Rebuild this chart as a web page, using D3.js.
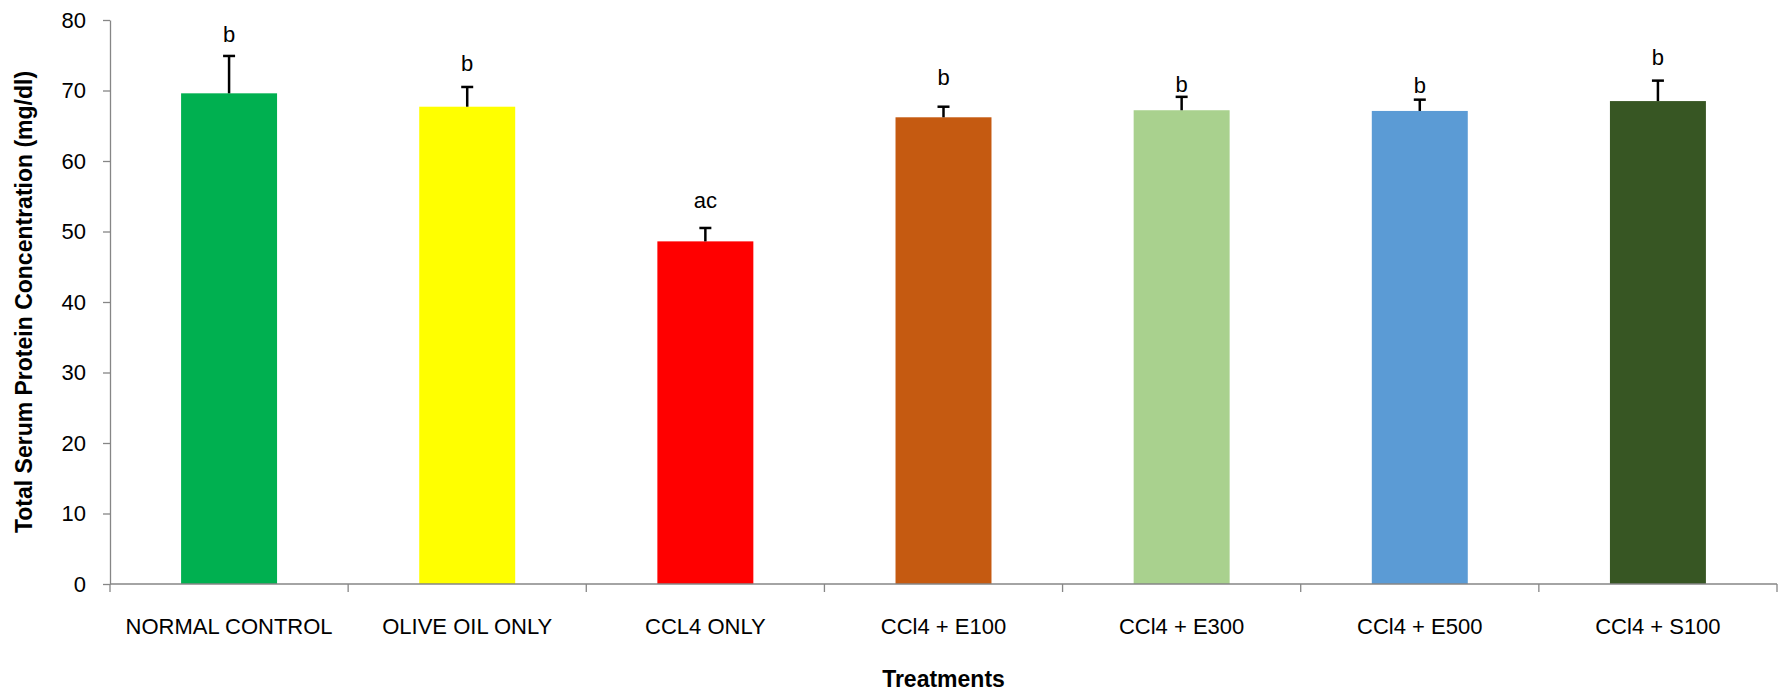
<!DOCTYPE html>
<html>
<head>
<meta charset="utf-8">
<script src="https://cdn.jsdelivr.net/npm/d3@7/dist/d3.min.js"></script>
<style>
  html, body { margin: 0; padding: 0; background: #fff; }
  svg { display: block; font-family: "Liberation Sans", Arial, sans-serif; }
</style>
</head>
<body>
<svg id="chart" width="1778" height="692"></svg>
<script>
// Treatment groups, mean total serum protein (mg/dl), SEM and significance letters
const treatments = ["NORMAL CONTROL", "OLIVE OIL ONLY", "CCL4 ONLY", "CCl4 + E100", "CCl4 + E300", "CCl4 + E500", "CCl4 + S100"];
const meanProtein = [69.6, 67.7, 48.6, 66.2, 67.2, 67.1, 68.5];
const semProtein = [5.3, 2.8, 1.9, 1.5, 1.9, 1.6, 2.9];
const sigLetters = ["b", "b", "ac", "b", "b", "b", "b"];
const barColors = ["#00B050", "#FFFF00", "#FF0000", "#C55A11", "#A9D18E", "#5B9BD5", "#375623"];
const yTicks = [0, 10, 20, 30, 40, 50, 60, 70, 80];

// Layout
const plot = { left: 110, right: 1777, top: 20, bottom: 584 };
const barFraction = 0.403;
const letterLift = [14, 16, 20, 22, 5, 7, 16]; // gap between error cap and letter baseline (px)
const axisGrey = "#868686";

const svg = d3.select("#chart");

const x = d3.scaleBand().domain(treatments).range([plot.left, plot.right]).paddingInner(0).paddingOuter(0);
const y = d3.scaleLinear().domain([0, 80]).range([plot.bottom, plot.top]);
const barW = x.bandwidth() * barFraction;

// Bars
svg.append("g").selectAll("rect")
  .data(treatments)
  .join("rect")
  .attr("x", (d) => x(d) + (x.bandwidth() - barW) / 2)
  .attr("y", (d, i) => y(meanProtein[i]))
  .attr("width", barW)
  .attr("height", (d, i) => y(0) - y(meanProtein[i]))
  .attr("fill", (d, i) => barColors[i]);

// Upper error bars
const errG = svg.append("g").attr("stroke", "#000").attr("stroke-width", 2.5);
treatments.forEach((d, i) => {
  const cx = x(d) + x.bandwidth() / 2;
  const yTop = y(meanProtein[i] + semProtein[i]);
  errG.append("line").attr("x1", cx).attr("x2", cx).attr("y1", y(meanProtein[i])).attr("y2", yTop);
  errG.append("line").attr("x1", cx - 6).attr("x2", cx + 6).attr("y1", yTop).attr("y2", yTop);
});

// Significance letters
svg.append("g").selectAll("text")
  .data(treatments)
  .join("text")
  .attr("x", (d) => x(d) + x.bandwidth() / 2)
  .attr("y", (d, i) => y(meanProtein[i] + semProtein[i]) - letterLift[i])
  .attr("text-anchor", "middle")
  .attr("font-size", 22)
  .attr("fill", "#000")
  .text((d, i) => sigLetters[i]);

// Y axis
const yAxis = svg.append("g")
  .attr("transform", `translate(${plot.left},0)`)
  .call(d3.axisLeft(y).tickValues(yTicks).tickSize(7).tickSizeOuter(0).tickPadding(17).tickFormat(d3.format("d")));
yAxis.select(".domain").attr("stroke", axisGrey).attr("stroke-width", 1.3);
yAxis.selectAll(".tick line").attr("stroke", axisGrey).attr("stroke-width", 1.3);
yAxis.selectAll(".tick text").attr("font-size", 22).attr("font-family", "Liberation Sans, Arial, sans-serif").attr("fill", "#000");

// X axis with ticks between categories
const xAxisG = svg.append("g");
xAxisG.append("line")
  .attr("x1", plot.left).attr("x2", plot.right)
  .attr("y1", y(0)).attr("y2", y(0))
  .attr("stroke", axisGrey).attr("stroke-width", 1.3);
const boundaries = treatments.map((d) => x(d)).concat([x.range()[1]]);
xAxisG.selectAll("line.tick")
  .data(boundaries)
  .join("line")
  .attr("class", "tick")
  .attr("x1", (d) => d).attr("x2", (d) => d)
  .attr("y1", y(0)).attr("y2", y(0) + 8)
  .attr("stroke", axisGrey).attr("stroke-width", 1.3);
xAxisG.selectAll("text")
  .data(treatments)
  .join("text")
  .attr("x", (d) => x(d) + x.bandwidth() / 2)
  .attr("y", 634)
  .attr("text-anchor", "middle")
  .attr("font-size", 22)
  .attr("fill", "#000")
  .text((d) => d);

// Axis titles
svg.append("text")
  .attr("x", (plot.left + plot.right) / 2)
  .attr("y", 687)
  .attr("text-anchor", "middle")
  .attr("font-size", 23)
  .attr("font-weight", "bold")
  .attr("fill", "#000")
  .text("Treatments");

svg.append("text")
  .attr("transform", `translate(32,${(plot.top + plot.bottom) / 2}) rotate(-90)`)
  .attr("text-anchor", "middle")
  .attr("font-size", 23)
  .attr("font-weight", "bold")
  .attr("fill", "#000")
  .text("Total Serum Protein Concentration (mg/dl)");
</script>
</body>
</html>
